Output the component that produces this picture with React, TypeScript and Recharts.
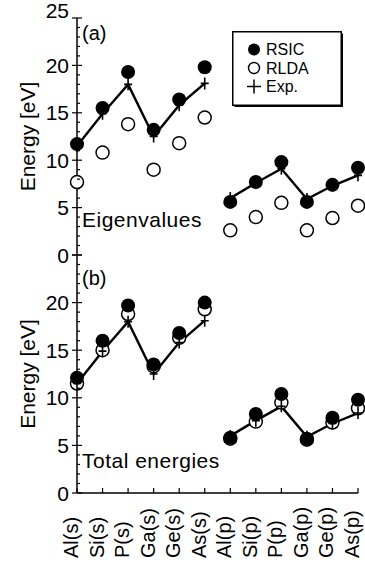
import { LineChart, Line, XAxis, YAxis, Legend } from 'recharts';

// categories along the x axis (s levels, then p levels)
const CATEGORIES = [
  'Al(s)', 'Si(s)', 'P(s)', 'Ga(s)', 'Ge(s)', 'As(s)',
  'Al(p)', 'Si(p)', 'P(p)', 'Ga(p)', 'Ge(p)', 'As(p)',
];
const S_COUNT = 6;

// experiment, same in both panels
const EXP = [11.5, 14.9, 18.0, 12.5, 15.8, 18.1, 6.0, 7.6, 9.1, 5.9, 7.3, 8.4];

// (a) eigenvalues
const EIGEN_RSIC = [11.7, 15.5, 19.3, 13.2, 16.4, 19.8, 5.6, 7.7, 9.8, 5.6, 7.4, 9.2];
const EIGEN_RLDA = [7.7, 10.8, 13.8, 9.0, 11.8, 14.5, 2.6, 4.0, 5.5, 2.6, 3.9, 5.2];

// (b) total energies
const TOTAL_RSIC = [12.1, 16.0, 19.7, 13.5, 16.8, 20.0, 5.8, 8.3, 10.4, 5.7, 7.9, 9.8];
const TOTAL_RLDA = [11.5, 15.0, 18.8, 13.3, 16.3, 19.3, 5.7, 7.5, 9.5, 5.6, 7.4, 8.9];

const Y_LABELS_A = [0, 5, 10, 15, 20, 25];
const Y_LABELS_B = [0, 5, 10, 15, 20];
const Y_TICKS = Array.from({ length: 26 }, (_, i) => i);

const FONT = '"Liberation Sans", Arial, Helvetica, sans-serif';
const AXIS_LINE = { stroke: '#000', strokeWidth: 1.5 };

const buildRows = (rsic: number[], rlda: number[]) =>
  CATEGORIES.map((name, i) => ({
    name,
    rsic: rsic[i],
    rlda: rlda[i],
    expS: i < S_COUNT ? EXP[i] : null,
    expP: i >= S_COUNT ? EXP[i] : null,
  }));

const FilledDot = (p: any) =>
  p.cy == null ? <g key={p.key} /> : <circle key={p.key} cx={p.cx} cy={p.cy} r={7} fill="#000" />;

const OpenDot = (p: any) =>
  p.cy == null ? (
    <g key={p.key} />
  ) : (
    <circle key={p.key} cx={p.cx} cy={p.cy} r={6.5} fill="#fff" stroke="#000" strokeWidth={1.5} />
  );

const PlusDot = (p: any) =>
  p.cy == null ? (
    <g key={p.key} />
  ) : (
    <g key={p.key} stroke="#000" strokeWidth={1.6}>
      <line x1={p.cx} x2={p.cx} y1={p.cy - 6} y2={p.cy + 6} />
      <line x1={p.cx - 4} x2={p.cx + 4} y1={p.cy} y2={p.cy} />
    </g>
  );

// left axis: label outside, major tick crossing the frame, minor ticks inside
const LeftTick = ({ x, y, payload, labels }: any) => {
  const v = payload.value;
  const major = v % 5 === 0;
  const ax = x + 8;
  return (
    <g>
      <line
        x1={major ? ax - 5 : ax}
        x2={major ? ax + 5 : ax + 3}
        y1={y}
        y2={y}
        stroke="#000"
        strokeWidth={1.2}
      />
      {major && labels.includes(v) && (
        <text
          x={x}
          y={v === 25 ? y - 8 : y}
          dy="0.36em"
          textAnchor="end"
          fontSize={21}
          fontFamily={FONT}
          fill="#000"
        >
          {v}
        </text>
      )}
    </g>
  );
};

const RightTick = ({ x, y, payload }: any) => {
  const major = payload.value % 5 === 0;
  return <line x1={x - (major ? 6 : 3)} x2={x} y1={y} y2={y} stroke="#000" strokeWidth={1.2} />;
};

const DownTick = ({ x, y }: any) => (
  <line x1={x} x2={x} y1={y} y2={y + 5} stroke="#000" strokeWidth={1.2} />
);

const UpTick = ({ x, y }: any) => (
  <line x1={x} x2={x} y1={y - 5} y2={y} stroke="#000" strokeWidth={1.2} />
);

const NameTick = ({ x, y, payload }: any) => (
  <g>
    <line x1={x} x2={x} y1={y - 5} y2={y} stroke="#000" strokeWidth={1.2} />
    <text
      x={x}
      y={y + 65}
      dy="0.05em"
      transform={`rotate(-90, ${x}, ${y + 65})`}
      textAnchor="start"
      fontSize={20}
      fontFamily={FONT}
      fill="#000"
    >
      {payload.value}
    </text>
  </g>
);

const LegendBox = () => (
  <svg width={113} height={78} style={{ display: 'block' }}>
    <rect x={2.5} y={2.5} width={108.5} height={73.5} fill="#000" />
    <rect x={0.75} y={0.75} width={108.5} height={73.5} fill="#fff" stroke="#000" strokeWidth={1.5} />
    <circle cx={22} cy={18.5} r={6} fill="#000" />
    <circle cx={22} cy={37} r={5.5} fill="#fff" stroke="#000" strokeWidth={1.4} />
    <line x1={15} x2={29} y1={55.5} y2={55.5} stroke="#000" strokeWidth={1.5} />
    <line x1={22} x2={22} y1={48.5} y2={62.5} stroke="#000" strokeWidth={1.5} />
    {['RSIC', 'RLDA', 'Exp.'].map((t, i) => (
      <text key={t} x={34} y={18.5 + i * 18.5} dy="0.36em" fontSize={16} fontFamily={FONT} fill="#000">
        {t}
      </text>
    ))}
  </svg>
);

function Panel({ rows, height, margin, yLabels, bottomLabels, legend }: any) {
  return (
    <LineChart width={365} height={height} data={rows} margin={margin}>
      <XAxis
        xAxisId="t"
        orientation="top"
        dataKey="name"
        height={0}
        tickSize={0}
        tickMargin={0}
        tickLine={false}
        interval={0}
        axisLine={AXIS_LINE}
        tick={<DownTick />}
      />
      <XAxis
        xAxisId="b"
        dataKey="name"
        height={bottomLabels ? 70 : 0}
        tickSize={0}
        tickMargin={0}
        tickLine={false}
        interval={0}
        axisLine={AXIS_LINE}
        tick={bottomLabels ? <NameTick /> : <UpTick />}
      />
      <YAxis
        yAxisId="l"
        width={77}
        domain={[0, 25]}
        allowDataOverflow
        ticks={Y_TICKS}
        interval={0}
        tickSize={0}
        tickMargin={8}
        tickLine={false}
        axisLine={AXIS_LINE}
        tick={<LeftTick labels={yLabels} />}
        label={{
          value: 'Energy [eV]',
          angle: -90,
          position: 'center',
          dx: -11,
          style: { fontSize: 21, fontFamily: FONT, fill: '#000' },
        }}
      />
      <YAxis
        yAxisId="r"
        orientation="right"
        width={0}
        domain={[0, 25]}
        allowDataOverflow
        ticks={Y_TICKS}
        interval={0}
        tickSize={0}
        tickMargin={0}
        tickLine={false}
        axisLine={AXIS_LINE}
        tick={<RightTick />}
      />
      <Line xAxisId="b" yAxisId="l" dataKey="rlda" name="RLDA" stroke="none" dot={OpenDot} activeDot={false} isAnimationActive={false} />
      <Line xAxisId="b" yAxisId="l" dataKey="expS" name="Exp." stroke="#000" strokeWidth={2.4} dot={PlusDot} activeDot={false} isAnimationActive={false} />
      <Line xAxisId="b" yAxisId="l" dataKey="expP" name="Exp." stroke="#000" strokeWidth={2.4} dot={PlusDot} activeDot={false} isAnimationActive={false} />
      <Line xAxisId="b" yAxisId="l" dataKey="rsic" name="RSIC" stroke="none" dot={FilledDot} activeDot={false} isAnimationActive={false} />
      {legend && (
        <Legend
          layout="vertical"
          align="center"
          verticalAlign="middle"
          wrapperStyle={{ left: 232, top: 31, width: 113, height: 78 }}
          content={() => <LegendBox />}
        />
      )}
    </LineChart>
  );
}

const note = (top: number, text: string, size: number, spacing: number) => (
  <div
    style={{
      position: 'absolute',
      left: 82,
      top,
      fontSize: size,
      letterSpacing: spacing,
      lineHeight: 1,
      fontFamily: FONT,
      color: '#000',
      whiteSpace: 'nowrap',
    }}
  >
    {text}
  </div>
);

export default function App() {
  return (
    <div
      style={{
        position: 'absolute',
        left: 0,
        top: 0,
        width: 365,
        height: 563,
        background: '#fff',
        fontFamily: FONT,
      }}
    >
      <div style={{ position: 'absolute', left: 0, top: 0 }}>
        <Panel
          rows={buildRows(EIGEN_RSIC, EIGEN_RLDA)}
          height={268}
          margin={{ top: 18, right: 7, bottom: 13, left: 0 }}
          yLabels={Y_LABELS_A}
          bottomLabels={false}
          legend
        />
      </div>
      <div style={{ position: 'absolute', left: 0, top: 252 }}>
        <Panel
          rows={buildRows(TOTAL_RSIC, TOTAL_RLDA)}
          height={311}
          margin={{ top: 3, right: 7, bottom: 0, left: 0 }}
          yLabels={Y_LABELS_B}
          bottomLabels
          legend={false}
        />
      </div>
      {note(23, '(a)', 20, 0)}
      {note(209, 'Eigenvalues', 21, 0.5)}
      {note(268, '(b)', 20, 0)}
      {note(450, 'Total energies', 21, 0.5)}
    </div>
  );
}
